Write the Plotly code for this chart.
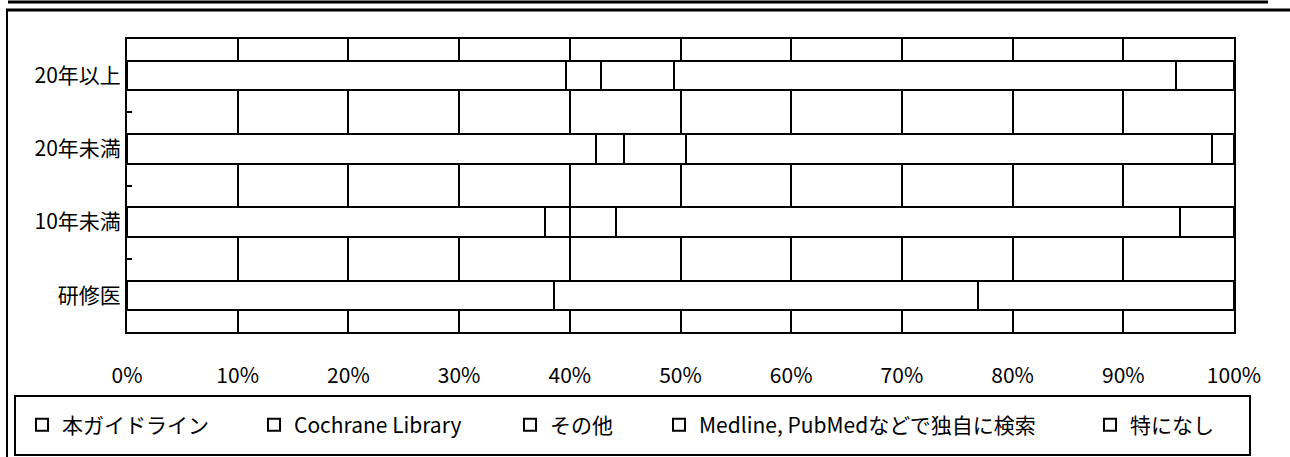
import plotly.graph_objects as go

categories = ["20年以上", "20年未満", "10年未満", "研修医"]
series_names = ["本ガイドライン", "Cochrane Library", "その他", "Medline, PubMedなどで独自に検索", "特になし"]
guideline = [39.7, 42.4, 37.8, 38.6]
cochrane = [3.1, 2.5, 2.2, 0.0]
other = [6.6, 5.6, 4.2, 0.0]
medline = [45.4, 47.5, 50.9, 38.3]
nothing = [5.2, 2.0, 4.9, 23.1]
x_ticks = [0, 10, 20, 30, 40, 50, 60, 70, 80, 90, 100]
x_tick_labels = [f"{v}%" for v in x_ticks]

W, H = 1290, 457
L, R, T, B = 127, 56, 39, 125
PW, PH = W - L - R, H - T - B

def px_x(px):
    return (px - L) / PW

def px_y(py):
    return (H - B - py) / PH

FONT = "Noto Sans CJK JP, Noto Sans, sans-serif"
FS = 21

fig = go.Figure()
all_values = [guideline, cochrane, other, medline, nothing]
legend_text_px = [58, 290, 546, 695, 1126]
for i, (name, vals) in enumerate(zip(series_names, all_values)):
    lg = "legend" if i == 0 else f"legend{i+1}"
    fig.add_trace(go.Bar(
        y=categories, x=vals, name=name, orientation="h",
        marker=dict(color="white", line=dict(color="black", width=2)),
        legend=lg, hoverinfo="skip",
    ))

layout_legends = {}
for i, p in enumerate(legend_text_px):
    key = "legend" if i == 0 else f"legend{i+1}"
    layout_legends[key] = dict(
        x=px_x(p - 36), xanchor="left", y=px_y(425), yanchor="middle",
        orientation="h", bgcolor="rgba(0,0,0,0)", borderwidth=0,
        font=dict(family=FONT, size=FS, color="black"),
        itemwidth=30, tracegroupgap=0,
    )

fig.update_layout(
    width=W, height=H,
    margin=dict(l=L, r=R, t=T, b=B, pad=0),
    paper_bgcolor="white", plot_bgcolor="white",
    barmode="stack", bargap=0.6,
    font=dict(family=FONT, size=FS, color="black"),
    showlegend=True,
    **layout_legends,
)

fig.update_xaxes(
    range=[0, 100], tickvals=x_ticks, ticktext=x_tick_labels,
    showgrid=True, gridcolor="black", gridwidth=1.5,
    showline=True, linecolor="black", linewidth=2, mirror=True,
    ticks="", ticklabelstandoff=24, zeroline=False,
    tickfont=dict(family=FONT, size=FS, color="black"),
)
fig.update_yaxes(
    categoryorder="array", categoryarray=categories, autorange="reversed",
    showgrid=False, showline=True, linecolor="black", linewidth=2, mirror=True,
    ticks="inside", tickson="boundaries", ticklen=5, tickcolor="black", tickwidth=1.5,
    tickfont=dict(family=FONT, size=FS, color="black"),
)

shapes = [
    # legend box
    dict(type="rect", xref="paper", yref="paper",
         x0=px_x(15), x1=px_x(1250), y0=px_y(455), y1=px_y(396),
         line=dict(color="black", width=2), fillcolor="rgba(0,0,0,0)"),
    # outer frame top
    dict(type="line", xref="paper", yref="paper",
         x0=px_x(6), x1=px_x(1290), y0=px_y(10), y1=px_y(10),
         line=dict(color="black", width=3)),
    # outer frame left
    dict(type="line", xref="paper", yref="paper",
         x0=px_x(7), x1=px_x(7), y0=px_y(10), y1=px_y(457),
         line=dict(color="black", width=2)),
    # scan remnant at very top
    dict(type="line", xref="paper", yref="paper",
         x0=px_x(8), x1=px_x(1268), y0=px_y(2), y1=px_y(2),
         line=dict(color="black", width=3)),
]
fig.update_layout(shapes=shapes)

fig.write_html(
    "out.html",
    config={"displayModeBar": False},
    post_script="document.body.style.margin='0';document.body.style.overflow='hidden';",
)
